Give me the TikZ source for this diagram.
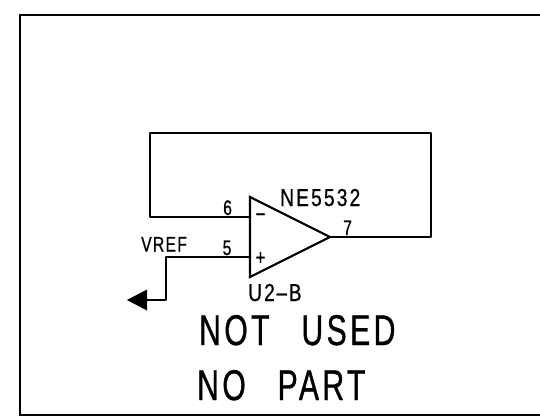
\documentclass[tikz,border=0pt]{standalone}
\usepackage{fontspec}
\setmainfont{Liberation Sans}
\newfontfamily\pinfont[FakeStretch=0.75, LetterSpace=6, FakeBold=0.7]{Liberation Sans}
\newfontfamily\partfont[FakeStretch=0.78, LetterSpace=9, FakeBold=0.7]{Liberation Sans}
\newfontfamily\notefont[FakeStretch=0.7, LetterSpace=8, WordSpace=2.7, FakeBold=0.8]{Liberation Sans}
\newcommand{\labelsize}[1]{\fontsize{#1}{#1}\selectfont}
\tikzset{
    wire/.style={line width=1.5pt, line cap=round, line join=round},
    pinlabel/.style={anchor=base west, inner sep=0pt, font=\pinfont\labelsize{21}},
    partlabel/.style={anchor=base west, inner sep=0pt, font=\partfont\labelsize{24.5}},
    notelabel/.style={anchor=base west, inner sep=0pt, font=\notefont\labelsize{43}},
    signlabel/.style={inner sep=0pt, font=\pinfont\labelsize{22}}
}
\begin{document}
\begin{tikzpicture}[x=1pt, y=-1pt]
    \useasboundingbox (0,0) rectangle (540,416);

    % Sheet border
    \draw[line width=2pt] (540,14.5) -- (19.5,14.5) -- (19.5,414.5) -- (540,414.5);

    % Op-amp
    \coordinate (topcorner) at (250,197);
    \coordinate (botcorner) at (250,277);
    \coordinate (out) at (330,237);
    \coordinate (inminus) at (250,217);
    \coordinate (inplus) at (250,257);
    \draw[line width=2.2pt, line join=miter] (topcorner) -- (out) -- (botcorner) -- cycle;
    \node[signlabel] (minus) at (260.5,217.5) {−};
    \node[signlabel] (plus) at (260.5,258.5) {+};

    % Feedback loop
    \coordinate (loopleft) at (150,133);
    \coordinate (loopright) at (431,133);
    \draw[wire] (out) -- (loopright |- out) -- (loopright) -- (loopleft) -- (loopleft |- inminus) -- (inminus);

    % VREF input
    \coordinate (vrefcorner) at (166,257);
    \coordinate (vrefdown) at (166,300);
    \coordinate (vrefend) at (147,300);
    \coordinate (vreftip) at (127,300);
    \draw[wire] (inplus) -- (vrefcorner) -- (vrefdown) -- (vrefend);
    \fill (vreftip) -- (147,289.5) -- (147,310.5) -- cycle;

    % Labels
    \node[pinlabel] (pinsix) at (223,215) {6};
    \node[pinlabel] (pinfive) at (222.5,255) {5};
    \node[pinlabel] (pinseven) at (343,235) {7};
    \node[pinlabel] (vref) at (141,251.5) {VREF};
    \node[partlabel] (partname) at (280,206) {NE5532};
    \node[partlabel] (refdes) at (248,301) {U2\scalebox{2.2}[1]{-}B};
    \node[notelabel] (notused) at (199,345) {NOT USED};
    \node[notelabel] (nopart) at (197,400) {NO PART};
\end{tikzpicture}
\end{document}
